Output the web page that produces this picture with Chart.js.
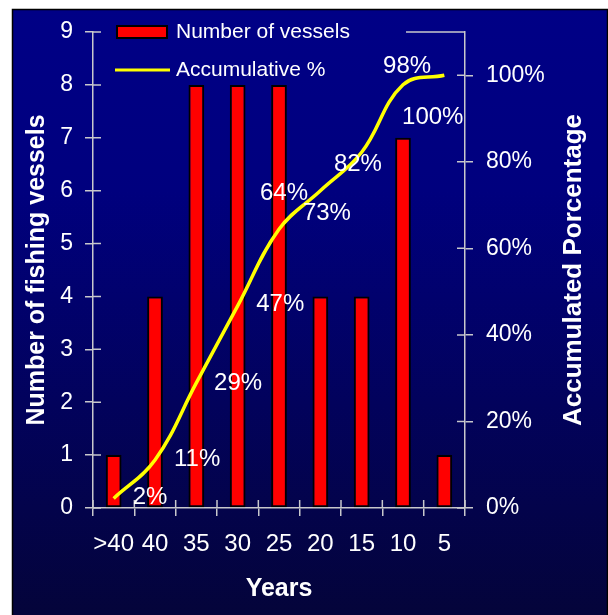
<!DOCTYPE html>
<html>
<head>
<meta charset="utf-8">
<script src="https://cdn.jsdelivr.net/npm/chart.js@4.4.1/dist/chart.umd.min.js"></script>
<style>
  html, body { margin: 0; padding: 0; background: #ffffff; }
  #wrap { width: 608px; height: 615px; }
</style>
</head>
<body>
<div id="wrap"><canvas id="c" width="608" height="615"></canvas></div>
<script>
// ---- data ----
const categories = ['>40', '40', '35', '30', '25', '20', '15', '10', '5'];
const vessels = [1, 4, 8, 8, 8, 4, 4, 7, 1];
const cumulativePct = [2.2, 11.1, 28.9, 46.7, 64.4, 73.3, 82.2, 97.8, 100];
const pctLabels = ['2%', '11%', '29%', '47%', '64%', '73%', '82%', '98%', '100%'];
// label anchor positions in data units (category index, percent)
const pctLabelX = [0.88, 2.02, 3.01, 4.03, 4.12, 5.16, 5.91, 7.10, 7.72];
const pctLabelY = [2.5, 11.3, 28.9, 47.1, 72.8, 68.2, 79.5, 102.0, 90.3];
const leftMax = 9;
const rightMax = 110;
const rightStep = 20;
const seriesNames = ['Number of vessels', 'Accumulative %'];
const axisTitles = { x: 'Years', y: 'Number of fishing vessels', y1: 'Accumulated Porcentage' };

const FONT = "'Liberation Sans', Arial, Helvetica, sans-serif";
const AXIS_COLOR = '#c8c8cc';

const panelPlugin = {
  id: 'panel',
  beforeDraw(chart) {
    const ctx = chart.ctx;
    ctx.save();
    ctx.fillStyle = '#ffffff';
    ctx.fillRect(0, 0, chart.width, chart.height);
    const g = ctx.createLinearGradient(0, 9, 0, 615);
    g.addColorStop(0, '#000086');
    g.addColorStop(0.3, '#00007e');
    g.addColorStop(1, '#04043a');
    ctx.fillStyle = g;
    ctx.fillRect(12, 9, 595, 606);
    ctx.strokeStyle = '#000000';
    ctx.lineWidth = 1.5;
    ctx.strokeRect(12.5, 9.5, 595, 610);
    ctx.restore();
  }
};

const decoPlugin = {
  id: 'deco',
  afterDraw(chart) {
    const ctx = chart.ctx;
    const ca = chart.chartArea;
    const x = chart.scales.x, y = chart.scales.y, y1 = chart.scales.y1;
    ctx.save();
    ctx.strokeStyle = AXIS_COLOR;
    ctx.lineWidth = 1.5;
    ctx.beginPath();
    // inner halves of tick marks
    y.ticks.forEach((t, i) => {
      const py = y.getPixelForTick(i);
      ctx.moveTo(ca.left, py); ctx.lineTo(ca.left + 8, py);
    });
    y1.ticks.forEach((t, i) => {
      const py = y1.getPixelForTick(i);
      ctx.moveTo(ca.right - 8, py); ctx.lineTo(ca.right, py);
    });
    for (let i = 0; i <= categories.length; i++) {
      const px = x.getPixelForValue(i - 0.5);
      ctx.moveTo(px, ca.bottom); ctx.lineTo(px, ca.bottom - 8);
    }
    // visible part of the plot-area top border (rest hidden behind legend)
    ctx.moveTo(406, ca.top); ctx.lineTo(ca.right, ca.top);
    ctx.stroke();

    // legend
    ctx.fillStyle = '#ff0000';
    ctx.fillRect(117, 26, 50, 12);
    ctx.strokeStyle = '#000000';
    ctx.lineWidth = 2;
    ctx.strokeRect(117, 26, 50, 12);
    ctx.strokeStyle = '#ffff00';
    ctx.lineWidth = 3;
    ctx.beginPath();
    ctx.moveTo(115, 70); ctx.lineTo(170, 70);
    ctx.stroke();
    ctx.fillStyle = '#ffffff';
    ctx.font = '21px ' + FONT;
    ctx.textAlign = 'left';
    ctx.textBaseline = 'middle';
    ctx.fillText(seriesNames[0], 176, 32);
    ctx.fillText(seriesNames[1], 176, 70);

    // data labels
    ctx.font = '24px ' + FONT;
    ctx.textAlign = 'center';
    pctLabels.forEach((t, i) => {
      ctx.fillText(t, x.getPixelForValue(pctLabelX[i]), y1.getPixelForValue(pctLabelY[i]));
    });

    // right axis title (reads bottom to top)
    ctx.font = 'bold 26px ' + FONT;
    ctx.translate(574, (ca.top + ca.bottom) / 2);
    ctx.rotate(-Math.PI / 2);
    ctx.fillText(axisTitles.y1, 0, 0);
    ctx.restore();
  }
};

new Chart(document.getElementById('c'), {
  data: {
    labels: categories,
    datasets: [
      {
        type: 'line',
        label: seriesNames[1],
        data: cumulativePct,
        yAxisID: 'y1',
        borderColor: '#ffff00',
        borderWidth: 3.5,
        pointRadius: 0,
        tension: 0.4,
        fill: false,
        order: 0
      },
      {
        type: 'bar',
        label: seriesNames[0],
        data: vessels,
        yAxisID: 'y',
        backgroundColor: '#ff0000',
        borderColor: '#000000',
        borderWidth: 2,
        borderSkipped: false,
        categoryPercentage: 1,
        barPercentage: 0.38,
        order: 1
      }
    ]
  },
  options: {
    responsive: false,
    animation: false,
    devicePixelRatio: 1,
    layout: { padding: { top: 32, left: 12, right: 0, bottom: 0 } },
    plugins: { legend: { display: false }, tooltip: { enabled: false } },
    scales: {
      x: {
        type: 'category',
        offset: true,
        afterFit(s) { s.height = 107; },
        grid: { display: true, offset: true, drawOnChartArea: false, drawTicks: true, tickLength: 8, color: AXIS_COLOR, lineWidth: 1.5 },
        border: { display: true, color: AXIS_COLOR, width: 1.5 },
        ticks: { color: '#ffffff', font: { family: FONT, size: 24 }, padding: 14, maxRotation: 0, autoSkip: false },
        title: { display: true, text: axisTitles.x, color: '#ffffff', font: { family: FONT, size: 25, weight: 'bold' }, padding: { top: 0, bottom: 11 } }
      },
      y: {
        type: 'linear',
        position: 'left',
        min: 0,
        max: leftMax,
        afterFit(s) { s.width = 81; },
        grid: { display: true, drawOnChartArea: false, drawTicks: true, tickLength: 8, color: AXIS_COLOR, lineWidth: 1.5 },
        border: { display: true, color: AXIS_COLOR, width: 1.5 },
        ticks: { stepSize: 1, color: '#ffffff', font: { family: FONT, size: 23 }, padding: 12 },
        title: { display: true, text: axisTitles.y, color: '#ffffff', font: { family: FONT, size: 25, weight: 'bold' }, padding: { top: 10, bottom: 0 } }
      },
      y1: {
        type: 'linear',
        position: 'right',
        min: 0,
        max: rightMax,
        afterFit(s) { s.width = 143; },
        grid: { display: true, drawOnChartArea: false, drawTicks: true, tickLength: 8, color: AXIS_COLOR, lineWidth: 1.5 },
        border: { display: true, color: AXIS_COLOR, width: 1.5 },
        ticks: { stepSize: rightStep, includeBounds: false, color: '#ffffff', font: { family: FONT, size: 23 }, padding: 13, callback: v => v + '%' }
      }
    }
  },
  plugins: [panelPlugin, decoPlugin]
});
</script>
</body>
</html>
